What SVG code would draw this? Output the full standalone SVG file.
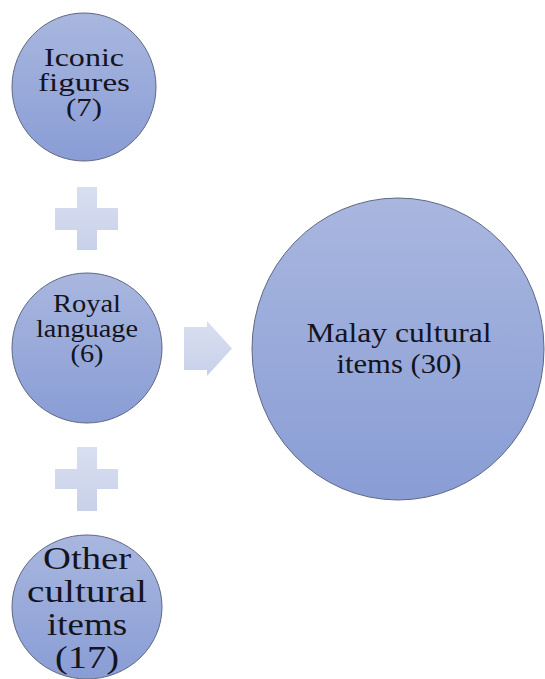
<svg xmlns="http://www.w3.org/2000/svg" width="545" height="679" viewBox="0 0 545 679">
  <defs>
    <linearGradient id="nodeFill" x1="0" y1="0" x2="0" y2="1">
      <stop offset="0" stop-color="#a9b7df"/>
      <stop offset="1" stop-color="#899dd5"/>
    </linearGradient>
    <linearGradient id="connFill" x1="0" y1="0" x2="0" y2="1">
      <stop offset="0" stop-color="#d9dff1"/>
      <stop offset="1" stop-color="#c8d1ea"/>
    </linearGradient>
  </defs>
  <style>
    .node { fill: url(#nodeFill); stroke: #5f6882; stroke-width: 1; }
    .conn { fill: url(#connFill); stroke: none; }
  </style>

  <g id="connectors">
    <path id="plus1" class="conn" d="M77,187 H97 V208 H118 V230 H97 V250 H77 V230 H55 V208 H77 Z"/>
    <path id="plus2" class="conn" d="M77,447 H97 V469 H118 V489 H97 V511 H77 V489 H55 V469 H77 Z"/>
    <path id="arrow" class="conn" d="M184,327 H207 V321 L232,348.5 L207,376 V370 H184 Z"/>
  </g>

  <g id="node-iconic">
    <ellipse class="node" cx="84" cy="87" rx="72" ry="74"/>
    <text font-family="Liberation Serif, serif" font-size="25" fill="#14141e" text-anchor="middle" x="84" y="66" textLength="80" lengthAdjust="spacingAndGlyphs">Iconic</text>
    <text font-family="Liberation Serif, serif" font-size="25" fill="#14141e" text-anchor="middle" x="84" y="91" textLength="92" lengthAdjust="spacingAndGlyphs">figures</text>
    <text font-family="Liberation Serif, serif" font-size="25" fill="#14141e" text-anchor="middle" x="84" y="116" textLength="36" lengthAdjust="spacingAndGlyphs">(7)</text>
  </g>

  <g id="node-royal">
    <ellipse class="node" cx="87" cy="348" rx="75" ry="75"/>
    <text font-family="Liberation Serif, serif" font-size="25" fill="#14141e" text-anchor="middle" x="87" y="312" textLength="68" lengthAdjust="spacingAndGlyphs">Royal</text>
    <text font-family="Liberation Serif, serif" font-size="25" fill="#14141e" text-anchor="middle" x="87" y="337" textLength="102" lengthAdjust="spacingAndGlyphs">language</text>
    <text font-family="Liberation Serif, serif" font-size="25" fill="#14141e" text-anchor="middle" x="87" y="362" textLength="33" lengthAdjust="spacingAndGlyphs">(6)</text>
  </g>

  <g id="node-other">
    <ellipse class="node" cx="87" cy="607" rx="75" ry="72"/>
    <text font-family="Liberation Serif, serif" font-size="32" fill="#14141e" text-anchor="middle" x="87" y="569" textLength="88" lengthAdjust="spacingAndGlyphs">Other</text>
    <text font-family="Liberation Serif, serif" font-size="32" fill="#14141e" text-anchor="middle" x="87" y="602" textLength="120" lengthAdjust="spacingAndGlyphs">cultural</text>
    <text font-family="Liberation Serif, serif" font-size="32" fill="#14141e" text-anchor="middle" x="87" y="635" textLength="80" lengthAdjust="spacingAndGlyphs">items</text>
    <text font-family="Liberation Serif, serif" font-size="32" fill="#14141e" text-anchor="middle" x="87" y="668" textLength="64" lengthAdjust="spacingAndGlyphs">(17)</text>
  </g>

  <g id="node-malay">
    <ellipse class="node" cx="398" cy="349" rx="146" ry="151"/>
    <text font-family="Liberation Serif, serif" font-size="28" fill="#14141e" text-anchor="middle" x="399" y="342" textLength="185" lengthAdjust="spacingAndGlyphs">Malay cultural</text>
    <text font-family="Liberation Serif, serif" font-size="28" fill="#14141e" text-anchor="middle" x="399" y="373" textLength="125" lengthAdjust="spacingAndGlyphs">items (30)</text>
  </g>
</svg>
